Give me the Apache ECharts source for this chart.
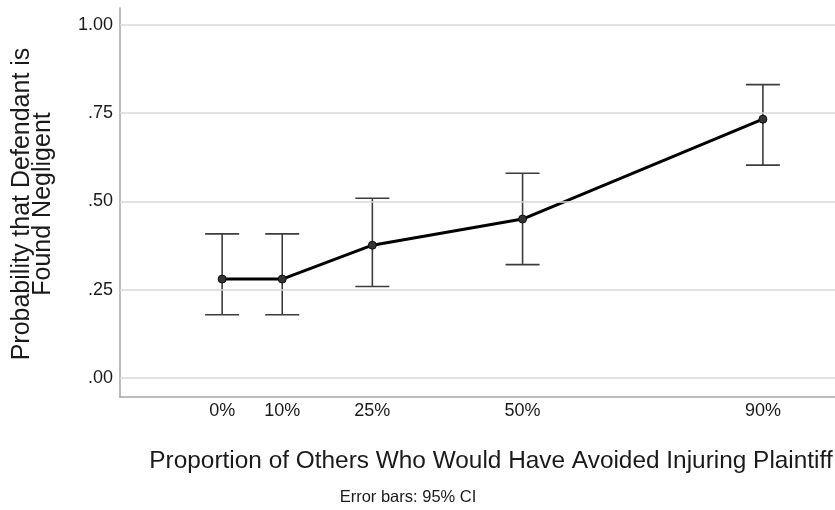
<!DOCTYPE html>
<html>
<head>
<meta charset="utf-8">
<script src="https://cdn.jsdelivr.net/npm/echarts@6/dist/echarts.min.js"></script>
<style>
  html, body { margin: 0; padding: 0; background: #ffffff; }
  #chart { width: 835px; height: 510px; }
</style>
</head>
<body>
<div id="chart"></div>
<script>
// Proportion of others (percent) who would have avoided the injury
const proportions = [0, 10, 25, 50, 90];
// Mean probability that the defendant is found negligent
const means = [0.280, 0.280, 0.376, 0.450, 0.733];
// 95% confidence interval bounds
const ciLower = [0.179, 0.179, 0.259, 0.321, 0.603];
const ciUpper = [0.408, 0.408, 0.509, 0.580, 0.831];
// Axis tick values
const yTicks = [0, 0.25, 0.5, 0.75, 1];
const xTicks = [0, 10, 25, 50, 90];

const FONT = "'Liberation Sans', Arial, sans-serif";
const TEXT = '#1a1a1a';

const meanData = proportions.map((p, i) => [p, means[i]]);
const ciData = proportions.map((p, i) => [p, ciLower[i], ciUpper[i]]);

function fmtY(v) {
  if (v >= 1) return v.toFixed(2);
  return v.toFixed(2).replace(/^0/, '');
}

const chart = echarts.init(document.getElementById('chart'), null, { renderer: 'canvas' });

chart.setOption({
  backgroundColor: '#ffffff',
  animation: false,
  grid: { left: 120, right: 0, top: 8, bottom: 113, containLabel: false },
  xAxis: {
    type: 'value',
    min: -17,
    max: 102,
    axisLine: { show: true, onZero: false, lineStyle: { color: '#a6a6a6', width: 1.5 } },
    axisTick: { show: false },
    splitLine: { show: false },
    axisLabel: {
      customValues: xTicks,
      formatter: v => v + '%',
      color: TEXT,
      fontFamily: FONT,
      fontSize: 18,
      margin: 5
    }
  },
  yAxis: {
    type: 'value',
    min: -0.054,
    max: 1.048,
    axisLine: { show: true, onZero: false, lineStyle: { color: '#a6a6a6', width: 1.5 } },
    axisTick: { show: false },
    splitLine: { show: false },
    axisLabel: {
      customValues: yTicks,
      formatter: fmtY,
      color: TEXT,
      fontFamily: FONT,
      fontSize: 18,
      margin: 7
    }
  },
  graphic: [
    {
      type: 'text',
      x: 33,
      y: 204,
      rotation: Math.PI / 2,
      style: {
        text: 'Probability that Defendant is\nFound Negligent',
        fill: TEXT,
        font: '25px ' + FONT,
        align: 'center',
        verticalAlign: 'middle',
        lineHeight: 21
      }
    },
    {
      type: 'text',
      x: 491,
      y: 461,
      style: {
        text: 'Proportion of Others Who Would Have Avoided Injuring Plaintiff',
        fill: TEXT,
        font: '24.4px ' + FONT,
        align: 'center',
        verticalAlign: 'middle'
      }
    },
    {
      type: 'text',
      x: 408,
      y: 497,
      style: {
        text: 'Error bars: 95% CI',
        fill: TEXT,
        font: '16.5px ' + FONT,
        align: 'center',
        verticalAlign: 'middle'
      }
    }
  ],
  series: [
    {
      // reference gridlines at the labelled y values
      type: 'line',
      data: [],
      silent: true,
      z: 1,
      markLine: {
        silent: true,
        symbol: ['none', 'none'],
        label: { show: false },
        lineStyle: { color: '#d9d9d9', type: 'solid', width: 1.5 },
        data: yTicks.map(v => ({ yAxis: v }))
      }
    },
    {
      // 95% CI error bars with caps
      type: 'custom',
      z: 3,
      data: ciData,
      renderItem: function (params, api) {
        const lo = api.coord([api.value(0), api.value(1)]);
        const hi = api.coord([api.value(0), api.value(2)]);
        const hw = 17;
        const style = { stroke: '#3c3c3c', lineWidth: 1.6 };
        return {
          type: 'group',
          children: [
            { type: 'line', shape: { x1: lo[0], y1: lo[1], x2: hi[0], y2: hi[1] }, style: style },
            { type: 'line', shape: { x1: hi[0] - hw, y1: hi[1], x2: hi[0] + hw, y2: hi[1] }, style: style },
            { type: 'line', shape: { x1: lo[0] - hw, y1: lo[1], x2: lo[0] + hw, y2: lo[1] }, style: style }
          ]
        };
      }
    },
    {
      // mean line with point markers
      type: 'line',
      z: 4,
      data: meanData,
      symbol: 'circle',
      symbolSize: 8,
      lineStyle: { color: '#000000', width: 3 },
      itemStyle: { color: '#333333', borderColor: '#111111', borderWidth: 1 }
    }
  ]
});
</script>
</body>
</html>
